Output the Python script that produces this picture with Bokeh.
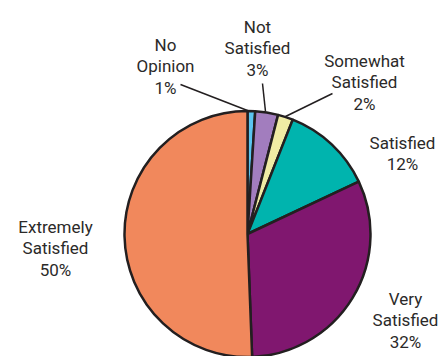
import numpy as np
from bokeh.plotting import figure
from bokeh.models import Range1d, ColumnDataSource
from bokeh.core.properties import value
from bokeh.embed import file_html
from bokeh.resources import INLINE

# Data (clockwise from 12 o'clock)
categories = ["No Opinion", "Not Satisfied", "Somewhat Satisfied", "Satisfied", "Very Satisfied", "Extremely Satisfied"]
shares = [1.0, 3.0, 2.0, 12.0, 31.4, 50.6]
pct_labels = ["1%", "3%", "2%", "12%", "32%", "50%"]
label_lines = ["No\nOpinion", "Not\nSatisfied", "Somewhat\nSatisfied", "Satisfied", "Very\nSatisfied", "Extremely\nSatisfied"]
colors = ["#5BC5F0", "#A27DBE", "#F0ECA4", "#00B4AE", "#80176F", "#F1885C"]

W, H = 438, 356
p = figure(width=W, height=H, output_backend="svg", toolbar_location=None,
           x_range=Range1d(0, W), y_range=Range1d(0, H), min_border=0)
p.axis.visible = False
p.grid.visible = False
p.outline_line_color = None
p.background_fill_color = "white"

def Y(yimg):
    return H - yimg

cx, cy, r = 247, Y(233.5), 123
frac = np.array(shares) / np.sum(shares)
cum = np.concatenate([[0], np.cumsum(frac)])
starts = np.pi / 2 - 2 * np.pi * cum[:-1]
ends = np.pi / 2 - 2 * np.pi * cum[1:]

src = ColumnDataSource(dict(start=starts, end=ends, color=colors))
p.wedge(x=cx, y=cy, radius=r, start_angle="start", end_angle="end", direction="clock",
        fill_color="color", line_color="#231F20", line_width=2.5, source=src)

# leader lines (image coords)
leaders = [((180, 84), (247, 110)), ((262, 83), (265, 111)), ((332, 93), (285, 116))]
for (x0, y0), (x1, y1) in leaders:
    p.line([x0, x1], [Y(y0), Y(y1)], line_color="#231F20", line_width=1.5)

# label centres (image coords, middle of text block)
label_xy = [(165, 66), (257, 48), (364, 82), (402, 153), (405, 320), (55, 248)]
texts = [f"{l}\n{pc}" for l, pc in zip(label_lines, pct_labels)]
tsrc = ColumnDataSource(dict(x=[a for a, b in label_xy], y=[Y(b) for a, b in label_xy], t=texts))
p.text(x="x", y="y", text="t", source=tsrc, text_align="center", text_baseline="middle",
       text_font=value("Roboto"), text_font_size="17px",
       text_color="#2B2A29", text_line_height=1.07)

open("out.html", "w").write(file_html(p, INLINE))
